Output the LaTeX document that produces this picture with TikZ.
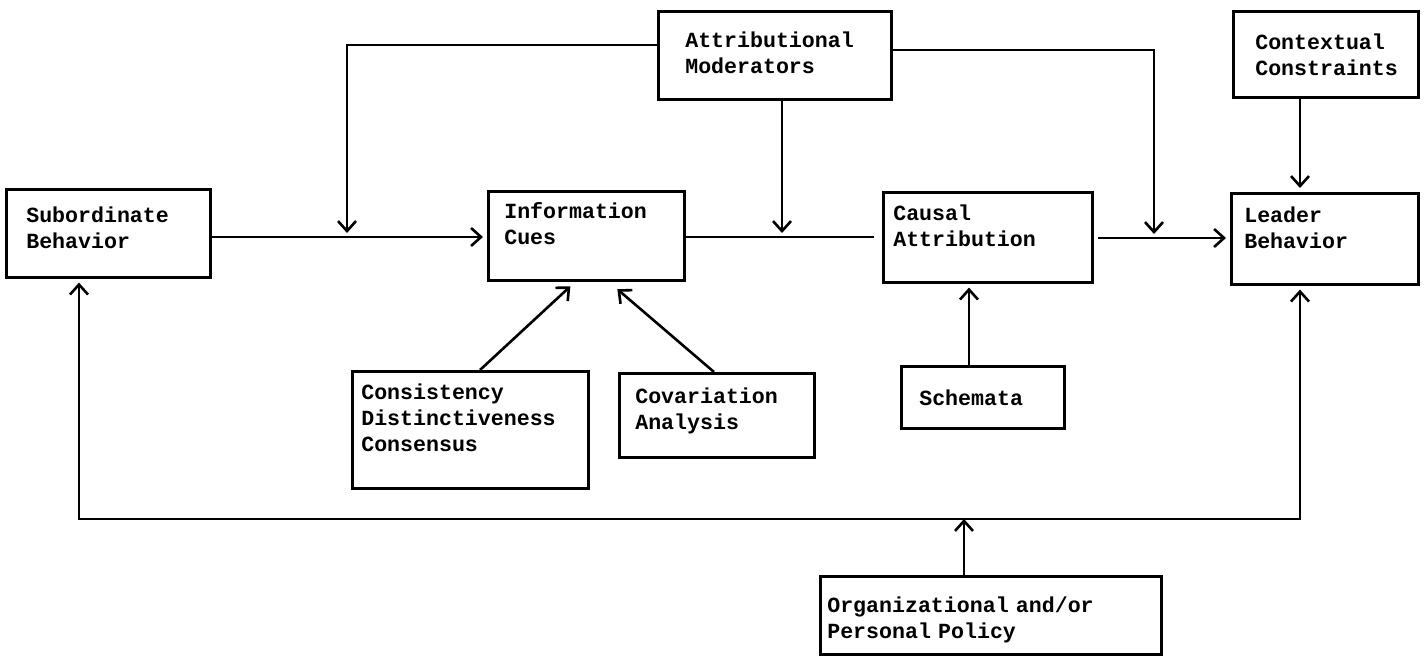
\documentclass[tikz,border=0pt]{standalone}
\usepackage{fontspec}
\newfontfamily\boxfont{Liberation Mono}
\usetikzlibrary{positioning,arrows.meta}

\begin{document}
\begin{tikzpicture}[x=0.5pt,y=-0.5pt,
	>={Straight Barb[length=5pt,width=9pt]},
	ln/.style={line width=1.3pt},
	arr/.style={ln,->,shorten >=2pt},
	blk/.style={draw,line width=1.3pt,anchor=north west,align=left,inner ysep=0pt,
		font=\boxfont\bfseries\fontsize{10.8}{13}\selectfont}]
	\useasboundingbox (0,0) rectangle (1426,662);
	\node[blk,minimum width=102pt,minimum height=44pt,text width=82pt,inner xsep=10pt,text depth=19pt] (sub) at (5,188) {Subordinate\\Behavior};
	\node[blk,minimum width=98pt,minimum height=44.5pt,text width=82pt,inner xsep=8pt,text depth=25pt] (info) at (487,190) {Information\\Cues};
	\node[blk,minimum width=116.5pt,minimum height=44pt,text width=89.5pt,inner xsep=13.5pt,text depth=16pt] (attr) at (657,10) {Attributional\\Moderators};
	\node[blk,minimum width=104.5pt,minimum height=45pt,text width=94.5pt,inner xsep=5pt,text depth=25pt] (caus) at (882,191) {Causal\\Attribution};
	\node[blk,minimum width=93.5pt,minimum height=45.5pt,text width=80.5pt,inner xsep=6.5pt,text depth=24pt] (lead) at (1230,192) {Leader\\Behavior};
	\node[blk,minimum width=92.5pt,minimum height=43pt,text width=70.5pt,inner xsep=11pt] (ctx) at (1232,10) {Contextual\\Constraints};
	\node[blk,minimum width=118pt,minimum height=58.5pt,text width=109pt,inner xsep=4.5pt,text depth=38pt] (cons) at (351,370) {Consistency\\Distinctiveness\\Consensus};
	\node[blk,minimum width=97.5pt,minimum height=42pt,text width=81.5pt,inner xsep=8pt,text depth=19.6pt] (cov) at (618,372) {Covariation\\Analysis};
	\node[blk,minimum width=81.5pt,minimum height=31pt,text width=63.5pt,inner xsep=9pt] (sch) at (900,365) {Schemata};
	\node[blk,minimum width=170.5pt,minimum height=39pt,text width=163.5pt,inner xsep=3.5pt,text depth=10.6pt] (org) at (819,575) {Organizational and/or\\Personal Policy};
	\coordinate (ja) at (347,237);
	\coordinate (jb) at (782,237);
	\coordinate (jc) at (1154,238);
	\coordinate (jl) at (79,519);
	\coordinate (jr) at (1300,519);
	\coordinate (jo) at (964,519);
	\draw[arr] (attr.west |- 0,45) -| (ja);
	\draw[arr] (attr.east |- 0,50) -| (jc);
	\draw[arr] (attr.south -| jb) -- (jb);
	\draw[arr] (sub.east |- ja) -- (info.west |- ja);
	\draw[ln,shorten >=4pt] (info.east |- jb) -- (caus.west |- jb);
	\draw[arr,shorten <=2pt] (caus.east |- jc) -- (lead.west |- jc);
	\draw[arr] (ctx.south -| jr) -- (lead.north -| jr);
	\draw[arr] (cons.north -| 480,0) -- ([shift={(-13,2)}]info.south);
	\draw[arr] (cov.north -| 714,0) -- ([shift={(28,5)}]info.south);
	\draw[arr] (sch.north -| 969,0) -- (caus.south -| 969,0);
	\draw[arr,<->,shorten <=2pt] (sub.south -| jl) -- (jl) -- (jr) -- (lead.south -| jr);
	\draw[arr,shorten >=0pt] (org.north -| jo) -- (jo);
\end{tikzpicture}
\end{document}
